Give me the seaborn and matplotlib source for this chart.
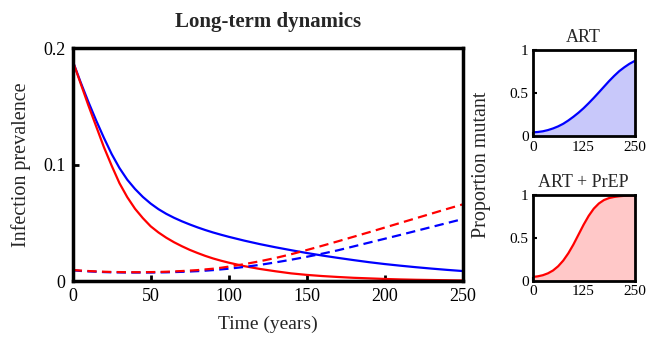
import numpy as np
import pandas as pd
import matplotlib
matplotlib.use("Agg")
import matplotlib.pyplot as plt
import seaborn as sns

# ---- data ----
time = [0, 5, 10, 15, 20, 25, 30, 35, 40, 45, 50, 55, 60, 65, 70, 75, 80, 85, 90, 95,
        100, 110, 120, 130, 140, 150, 160, 170, 180, 190, 200, 210, 220, 230, 240, 250]
art_wild = [0.189, 0.171, 0.154, 0.138, 0.123, 0.109, 0.097, 0.087, 0.079, 0.0722,
            0.0665, 0.0617, 0.0577, 0.0543, 0.0513, 0.0486, 0.0461, 0.0438, 0.0417, 0.0398,
            0.038, 0.0347, 0.0317, 0.0290, 0.0265, 0.0241, 0.0219, 0.0199, 0.0180,
            0.0162, 0.0146, 0.0132, 0.0119, 0.0107, 0.0096, 0.0086]
prep_wild = [0.189, 0.170, 0.151, 0.133, 0.115, 0.099, 0.084, 0.072, 0.062, 0.054,
             0.047, 0.0417, 0.0372, 0.0333, 0.0299, 0.0268, 0.0241, 0.0216, 0.0194,
             0.0175, 0.0158, 0.0128, 0.0104, 0.0084, 0.0066, 0.0053, 0.0043, 0.0035,
             0.0028, 0.0023, 0.0018, 0.0014, 0.0011, 0.0009, 0.0007, 0.0005]
art_mut = [0.0092, 0.0087, 0.0083, 0.0080, 0.0077, 0.0075, 0.0074, 0.0073, 0.0073,
           0.0073, 0.0073, 0.0074, 0.0075, 0.0077, 0.0079, 0.0082, 0.0085, 0.0089,
           0.0094, 0.0100, 0.0106, 0.0121, 0.0139, 0.0160, 0.0183, 0.0208, 0.0235,
           0.0264, 0.0297, 0.0330, 0.0363, 0.0396, 0.0430, 0.0464, 0.0498, 0.0532]
prep_mut = [0.0095, 0.0090, 0.0086, 0.0083, 0.0080, 0.0078, 0.0077, 0.0076, 0.0076,
            0.0076, 0.0077, 0.0078, 0.0080, 0.0083, 0.0086, 0.0090, 0.0094, 0.0100,
            0.0106, 0.0114, 0.0124, 0.0145, 0.0170, 0.0198, 0.0230, 0.0266, 0.0303,
            0.0341, 0.0380, 0.0419, 0.0459, 0.0499, 0.0539, 0.0579, 0.0619, 0.0658]

small_time = [0, 12.5, 25, 37.5, 50, 62.5, 75, 87.5, 100, 112.5, 125, 137.5, 150,
              162.5, 175, 187.5, 200, 212.5, 225, 237.5, 250]
art_prop = [0.047, 0.052, 0.06, 0.074, 0.093, 0.117, 0.147, 0.185, 0.228, 0.275, 0.327,
            0.385, 0.446, 0.51, 0.575, 0.64, 0.70, 0.755, 0.80, 0.84, 0.872]
prep_prop = [0.047, 0.055, 0.068, 0.09, 0.123, 0.172, 0.238, 0.323, 0.425, 0.54, 0.655,
             0.758, 0.842, 0.902, 0.942, 0.965, 0.978, 0.986, 0.991, 0.994, 0.995]

main_xticks = [0, 50, 100, 150, 200, 250]
main_yticks = [0, 0.1, 0.2]
main_yticklabels = ["0", "0.1", "0.2"]
small_xticks = [0, 125, 250]
small_yticks = [0, 0.5, 1]
small_yticklabels = ["0", "0.5", "1"]

BLUE = "#0000ff"
RED = "#ff0000"

sns.set_theme(style="white")
plt.rcParams["font.family"] = ["Liberation Serif", "DejaVu Serif"]

fig = plt.figure(figsize=(6.46, 3.37), dpi=100)

ax = fig.add_axes([0.1125, 0.166, 0.6037, 0.6914])
ax_top = fig.add_axes([0.8246, 0.595, 0.1576, 0.2567])
ax_bot = fig.add_axes([0.8246, 0.166, 0.1576, 0.2552])

lw = 1.6
DASH = (4.2, 2.4)
sns.lineplot(x=time, y=art_wild, ax=ax, color=BLUE, lw=lw)
sns.lineplot(x=time, y=prep_wild, ax=ax, color=RED, lw=lw)
sns.lineplot(x=time, y=art_mut, ax=ax, color=BLUE, lw=lw)
ax.lines[-1].set_dashes(DASH)
sns.lineplot(x=time, y=prep_mut, ax=ax, color=RED, lw=lw)
ax.lines[-1].set_dashes(DASH)

ax.set_xlim(0, 250)
ax.set_ylim(0, 0.2)
ax.set_xticks(main_xticks)
ax.set_xticklabels([str(v) for v in main_xticks])
ax.set_yticks(main_yticks)
ax.set_yticklabels(main_yticklabels)
ax.set_xlabel("Time (years)", fontsize=14, labelpad=8)
ax.set_ylabel("Infection prevalence", fontsize=14.5, labelpad=9)
ax.set_title("Long-term dynamics", fontsize=15, fontweight="bold", pad=15)

def style_axes(a, width=2.5, fs=13):
    for s in a.spines.values():
        s.set_visible(True)
        s.set_linewidth(width)
        s.set_color("black")
    a.tick_params(axis="both", which="both", direction="in", length=4, width=2,
                  colors="black", labelcolor="black", labelsize=fs, pad=5,
                  bottom=True, left=True, top=False, right=False)

style_axes(ax, 2.5, 13)

for a, ys, col, fill, title in [
    (ax_top, art_prop, BLUE, "#c8c8fa", "ART"),
    (ax_bot, prep_prop, RED, "#ffc8c8", "ART + PrEP"),
]:
    a.fill_between(small_time, ys, 0, color=fill, lw=0)
    sns.lineplot(x=small_time, y=ys, ax=a, color=col, lw=lw)
    a.set_xlim(0, 250)
    a.set_ylim(0, 1)
    a.set_xticks(small_xticks)
    a.set_xticklabels([str(v) for v in small_xticks])
    a.set_yticks(small_yticks)
    a.set_yticklabels(small_yticklabels)
    a.set_title(title, fontsize=13, pad=6)
    style_axes(a, 2.0, 11)
    a.tick_params(length=3, width=1.5, pad=3)

fig.text(0.746, 0.51, "Proportion mutant", rotation=90, fontsize=14.5,
         ha="center", va="center")

fig.savefig("out.png", dpi=100)
